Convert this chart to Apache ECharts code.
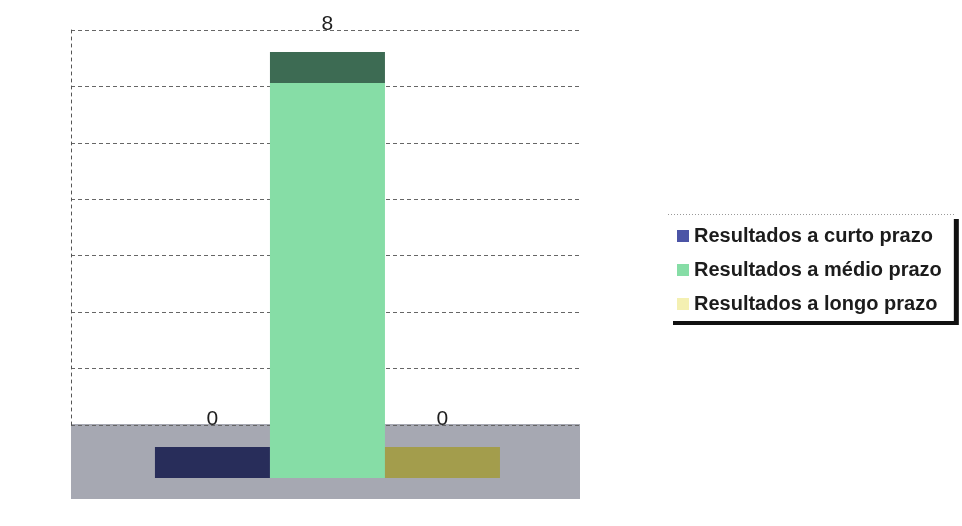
<!DOCTYPE html>
<html lang="pt">
  <head>
    <meta charset="utf-8" />
    <title>Resultados</title>
    <script src="https://cdn.jsdelivr.net/npm/echarts@6/dist/echarts.min.js"></script>
    <style>
      html, body { margin: 0; padding: 0; background: #fff; }
      #chart { width: 962px; height: 526px; }
    </style>
  </head>
  <body>
    <div id="chart"></div>
    <script type="text/javascript">
      // dados
      var seriesNames = [
        "Resultados a curto prazo",
        "Resultados a médio prazo",
        "Resultados a longo prazo",
      ];
      var seriesValues = [0, 8, 0];
      var wallTicks = [0, 1, 2, 3, 4, 5, 6, 7];

      // cores: legenda/frente e face de cima
      var frontColors = ["#4b54a6", "#86dda6", "#f4f0b2"];
      var topColors = ["#282d5a", "#3d6b53", "#a39d4c"];

      var chart = echarts.init(document.getElementById("chart"));

      function renderBar(params, api) {
        var i = params.seriesIndex;
        var x = api.value(0), v = api.value(1);
        var p0 = api.coord([x - 0.5, 0]);
        var p1 = api.coord([x + 0.5, v]);
        var w = p1[0] - p0[0];
        var depth = 31;
        return {
          type: "group",
          children: [
            {
              type: "rect",
              shape: { x: p0[0], y: p1[1], width: w, height: p0[1] - p1[1] },
              style: { fill: frontColors[i] },
            },
            {
              type: "rect",
              shape: { x: p0[0], y: p1[1] - depth, width: w, height: depth },
              style: { fill: topColors[i] },
            },
            {
              type: "text",
              x: p0[0] + w / 2,
              y: p1[1] - depth - 28,
              style: {
                text: String(v),
                fill: "#1e1e1e",
                font: "21px 'Liberation Sans', Arial, sans-serif",
                align: "center",
                verticalAlign: "middle",
              },
            },
          ],
        };
      }

      var series = seriesNames.map(function (name, i) {
        return {
          name: name,
          type: "custom",
          xAxisIndex: 1,
          yAxisIndex: 1,
          z: 5,
          itemStyle: { color: frontColors[i] },
          renderItem: renderBar,
          data: [[i, seriesValues[i]]],
        };
      });

      var opt = {
        backgroundColor: "#fff",
        animation: false,
        // linha pontilhada no topo da legenda
        graphic: [
          {
            type: "line",
            z: 10,
            shape: { x1: 668, y1: 214.5, x2: 955, y2: 214.5 },
            style: { stroke: "#999", lineWidth: 1, lineDash: [1, 2] },
          },
        ],
        legend: {
          orient: "vertical",
          left: 668,
          top: 215,
          padding: [11, 12, 7, 9],
          itemWidth: 12,
          itemHeight: 12,
          itemGap: 14,
          icon: "rect",
          backgroundColor: "#fff",
          borderWidth: 0,
          shadowColor: "#111",
          shadowBlur: 0,
          shadowOffsetX: 5,
          shadowOffsetY: 4,
          textStyle: {
            fontFamily: "'Liberation Sans', Arial, sans-serif",
            fontSize: 20,
            fontWeight: "bold",
            color: "#1c1c1c",
          },
          data: seriesNames,
        },
        grid: [
          // parede do fundo
          { left: 71, right: 382, top: 30, bottom: 101 },
          // barras
          { left: 71, right: 382, top: 83, bottom: 48 },
          // chao
          {
            left: 71, right: 382, top: 424, bottom: 27,
            show: true, backgroundColor: "#a6a8b2", borderWidth: 0,
          },
        ],
        xAxis: [
          { gridIndex: 0, type: "value", min: 0, max: 1, show: false },
          { gridIndex: 1, type: "value", min: -1.23, max: 3.196, show: false },
          { gridIndex: 2, type: "value", min: 0, max: 1, show: false },
        ],
        yAxis: [
          {
            gridIndex: 0,
            type: "value",
            min: wallTicks[0],
            max: wallTicks[wallTicks.length - 1],
            interval: 1,
            axisLabel: { show: false },
            axisTick: { show: false },
            axisLine: {
              show: true,
              lineStyle: { color: "#555", type: [3, 4], width: 1 },
            },
            splitLine: {
              show: true,
              lineStyle: { color: "#666", type: [4, 3], width: 1 },
            },
          },
          { gridIndex: 1, type: "value", min: 0, max: 8, show: false },
          { gridIndex: 2, type: "value", min: 0, max: 1, show: false },
        ],
        series: series,
      };
      chart.setOption(opt);
    </script>
  </body>
</html>
